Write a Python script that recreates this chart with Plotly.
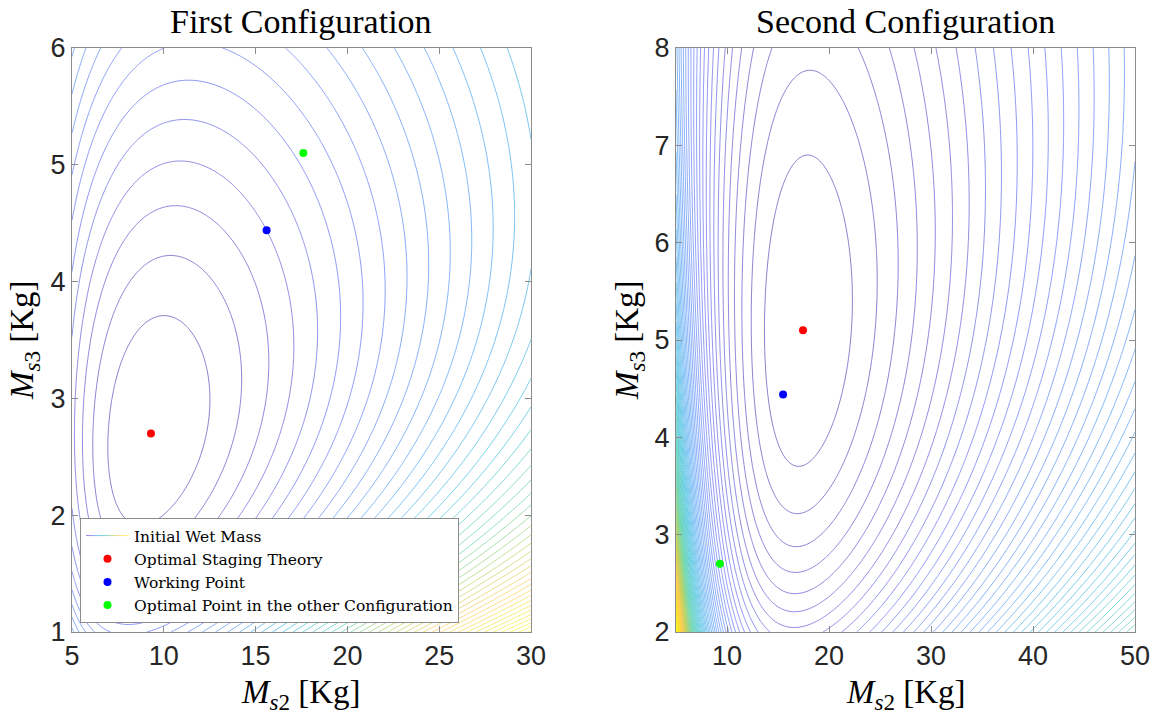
import numpy as np
import plotly.graph_objects as go

# ---- marker data ----
labels = ["Optimal Staging Theory", "Working Point", "Optimal Point in the other Configuration"]
colors = ["#ff0000", "#0000ff", "#00ff00"]
pts1_x = [9.3, 15.6, 17.6]
pts1_y = [2.7, 4.44, 5.1]
pts2_x = [17.45, 15.5, 9.3]
pts2_y = [5.1, 4.44, 2.7]

# ---- axis ticks ----
xticks1 = [5, 10, 15, 20, 25, 30]
yticks1 = [1, 2, 3, 4, 5, 6]
xticks2 = [10, 20, 30, 40, 50]
yticks2 = [2, 3, 4, 5, 6, 7, 8]

# ---- grids ----
ms2_1 = np.linspace(5, 30, 301)
ms3_1 = np.linspace(1, 6, 301)
ms2_2 = np.linspace(5, 50, 301)
ms3_2 = np.linspace(2, 8, 301)

# ---- rocket model parameters (stage 1, 2, 3) ----
payload1 = 1.105
payload2 = 2.12
eps_c1 = [0.1, 0.1, 0.1]
eps_c2 = [0.2, 0.1, 0.1]
vel_c1 = [3000.0, 3000.0, 3000.0]
vel_c2 = [4000.0, 3000.0, 3000.0]
dv_c1 = 9163.0
dv_c2 = 9362.0
level_step1 = 0.54
level_step2 = 0.89
level_offset1 = 0.95
level_offset2 = 1.0


def wet_mass(ms2, ms3, mp, eps, c, dv):
    X, Y = np.meshgrid(ms2, ms3)
    m3_0 = mp + Y
    m3_f = mp + eps[2] * Y
    dv3 = c[2] * np.log(m3_0 / m3_f)
    m2_0 = m3_0 + X
    m2_f = m3_0 + eps[1] * X
    dv2 = c[1] * np.log(m2_0 / m2_f)
    r1 = np.exp((dv - dv2 - dv3) / c[0])
    den = 1 - eps[0] * r1
    with np.errstate(divide="ignore", invalid="ignore"):
        m0 = np.where(den > 0.01, m2_0 * r1 * (1 - eps[0]) / den, np.nan)
    return m0


z1 = wet_mass(ms2_1, ms3_1, payload1, eps_c1, vel_c1, dv_c1)
z2 = wet_mass(ms2_2, ms3_2, payload2, eps_c2, vel_c2, dv_c2)

parula = [
    [0.0, "rgb(62,38,168)"], [0.125, "rgb(72,82,244)"], [0.25, "rgb(46,135,247)"],
    [0.375, "rgb(18,177,214)"], [0.5, "rgb(55,200,151)"], [0.625, "rgb(171,199,57)"],
    [0.75, "rgb(254,195,56)"], [0.875, "rgb(245,223,22)"], [1.0, "rgb(249,251,21)"],
]

fig = go.Figure()


def add_contour(x, y, z, step, offset, xa, ya, show):
    zmin = float(np.nanmin(z))
    zmax = float(np.nanmax(z))
    fig.add_trace(go.Contour(
        x=x, y=y, z=z, xaxis=xa, yaxis=ya,
        contours=dict(coloring="lines", start=zmin + step * offset, end=zmax, size=step),
        colorscale=parula, zmin=zmin, zmax=zmax, showscale=False,
        line=dict(width=0.6), name="Initial Wet Mass", showlegend=show,
        hoverinfo="skip",
    ))


add_contour(ms2_1, ms3_1, z1, level_step1, level_offset1, "x", "y", True)
add_contour(ms2_2, ms3_2, z2, level_step2, level_offset2, "x2", "y2", False)

for i in range(3):
    fig.add_trace(go.Scatter(x=[pts1_x[i]], y=[pts1_y[i]], mode="markers", xaxis="x", yaxis="y",
                             marker=dict(color=colors[i], size=8), name=labels[i], showlegend=True))
    fig.add_trace(go.Scatter(x=[pts2_x[i]], y=[pts2_y[i]], mode="markers", xaxis="x2", yaxis="y2",
                             marker=dict(color=colors[i], size=8), name=labels[i], showlegend=False))

W, H = 1159, 717
serif = "Liberation Serif, DejaVu Serif, serif"
tickfont = dict(family="Liberation Sans, Arial, sans-serif", size=27, color="#262626")
ax_common = dict(showgrid=False, zeroline=False, showline=True, linecolor="#8c8c8c", linewidth=1,
                 mirror="ticks", ticks="inside", ticklen=6, tickcolor="#8c8c8c", tickfont=tickfont,
                 automargin=False)

fig.update_layout(
    template="none",
    width=W, height=H, margin=dict(l=0, r=0, t=0, b=0, pad=0, autoexpand=False),
    paper_bgcolor="white", plot_bgcolor="white",
    xaxis=dict(domain=[72 / W, 531 / W], range=[5, 30], tickvals=xticks1, anchor="y", **ax_common),
    yaxis=dict(domain=[1 - 632 / H, 1 - 48 / H], range=[1, 6], tickvals=yticks1, anchor="x", **ax_common),
    xaxis2=dict(domain=[676 / W, 1135 / W], range=[5, 50], tickvals=xticks2, anchor="y2", **ax_common),
    yaxis2=dict(domain=[1 - 632 / H, 1 - 48 / H], range=[2, 8], tickvals=yticks2, anchor="x2", **ax_common),
    legend=dict(x=80 / W, y=1 - 623 / H, xanchor="left", yanchor="bottom",
                bgcolor="white", bordercolor="#8c8c8c", borderwidth=1,
                font=dict(family="DejaVu Serif, serif", size=15.5, color="black"),
                tracegroupgap=0, itemwidth=43),
    showlegend=True,
)

annos = [
    dict(text="First Configuration", x=(72 + 531) / 2 / W, y=1 - 22 / H, size=34),
    dict(text="Second Configuration", x=(676 + 1135) / 2 / W, y=1 - 22 / H, size=34),
    dict(text="<i>M</i><sub><i>s</i>2</sub> [Kg]", x=(72 + 531) / 2 / W, y=1 - 694 / H, size=33),
    dict(text="<i>M</i><sub><i>s</i>2</sub> [Kg]", x=(676 + 1135) / 2 / W, y=1 - 694 / H, size=33),
    dict(text="<i>M</i><sub><i>s</i>3</sub> [Kg]", x=24 / W, y=1 - 340 / H, textangle=-90, size=33),
    dict(text="<i>M</i><sub><i>s</i>3</sub> [Kg]", x=629 / W, y=1 - 340 / H, textangle=-90, size=33),
]
for a in annos:
    size = a.pop("size")
    fig.add_annotation(xref="paper", yref="paper", showarrow=False, xanchor="center", yanchor="middle",
                       font=dict(family=serif, size=size, color="black"), **a)

fig.write_html("out.html", config={"displayModeBar": False},
               post_script="document.body.style.margin='0';document.body.style.overflow='hidden';")
